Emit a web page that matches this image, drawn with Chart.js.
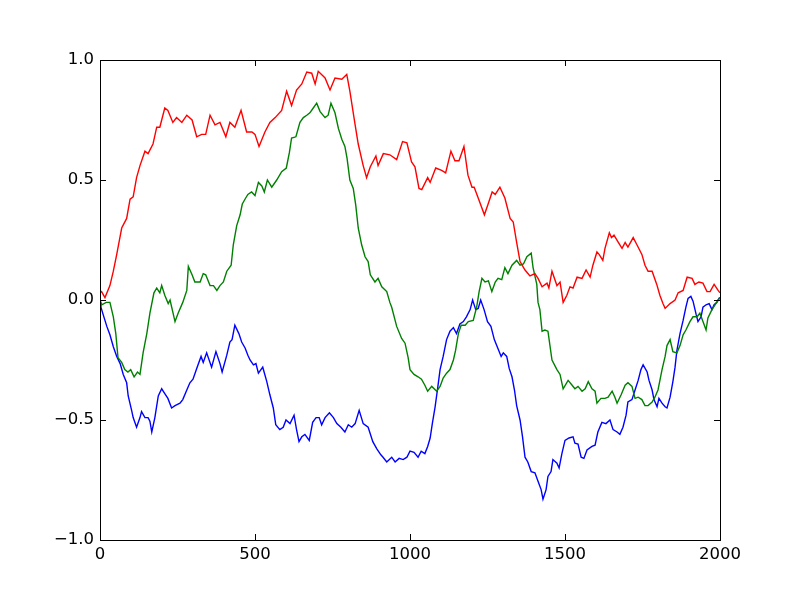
<!DOCTYPE html>
<html>
<head>
<meta charset="utf-8">
<script src="https://cdn.jsdelivr.net/npm/chart.js@4"></script>
<style>
    body { margin: 0; background: #fff; }
    canvas { display: block; }
</style>
</head>
<body>
<canvas id="walk-chart" width="800" height="600"></canvas>
<script>
/**
 * values (three random walks, x 0..2000)
 */
const redX = [0, 5, 16, 32, 43, 54, 70, 86, 97, 107, 118, 129, 145, 155, 171, 183, 193, 209, 219, 235, 247, 264, 280, 297, 312, 328, 341, 355, 371, 387, 406, 419, 435, 455, 473, 490, 500, 513, 532, 548, 565, 586, 602, 618, 634, 651, 667, 683, 694, 704, 726, 742, 758, 780, 796, 806, 823, 833, 849, 860, 872, 890, 897, 914, 935, 957, 976, 990, 1005, 1016, 1029, 1038, 1057, 1065, 1083, 1102, 1115, 1132, 1145, 1158, 1174, 1187, 1200, 1207, 1220, 1240, 1252, 1265, 1275, 1290, 1306, 1323, 1333, 1344, 1355, 1371, 1387, 1403, 1413, 1426, 1442, 1448, 1458, 1474, 1484, 1494, 1506, 1516, 1526, 1539, 1555, 1568, 1581, 1590, 1603, 1610, 1622, 1629, 1643, 1650, 1658, 1672, 1684, 1694, 1703, 1720, 1732, 1748, 1758, 1768, 1781, 1796, 1806, 1816, 1823, 1839, 1855, 1865, 1881, 1894, 1910, 1919, 1932, 1945, 1958, 1968, 1981, 1994, 2000];
const redY = [0.03, 0.035, 0.01, 0.06, 0.12, 0.19, 0.30, 0.34, 0.42, 0.43, 0.51, 0.56, 0.62, 0.61, 0.65, 0.72, 0.72, 0.80, 0.79, 0.74, 0.76, 0.74, 0.77, 0.75, 0.68, 0.69, 0.69, 0.77, 0.73, 0.74, 0.68, 0.74, 0.72, 0.79, 0.70, 0.70, 0.69, 0.64, 0.70, 0.74, 0.76, 0.79, 0.87, 0.81, 0.875, 0.90, 0.95, 0.945, 0.90, 0.953, 0.925, 0.875, 0.925, 0.92, 0.94, 0.87, 0.73, 0.65, 0.56, 0.51, 0.555, 0.60, 0.56, 0.61, 0.605, 0.585, 0.66, 0.655, 0.575, 0.555, 0.465, 0.46, 0.51, 0.49, 0.55, 0.54, 0.53, 0.62, 0.58, 0.58, 0.64, 0.52, 0.47, 0.47, 0.425, 0.355, 0.40, 0.45, 0.44, 0.47, 0.425, 0.34, 0.325, 0.24, 0.16, 0.125, 0.10, 0.11, 0.09, 0.055, 0.07, 0.05, 0.12, 0.06, 0.075, -0.01, 0.02, 0.055, 0.05, 0.095, 0.09, 0.125, 0.095, 0.145, 0.20, 0.19, 0.165, 0.215, 0.28, 0.26, 0.27, 0.24, 0.215, 0.24, 0.22, 0.26, 0.23, 0.19, 0.145, 0.12, 0.12, 0.065, 0.02, -0.015, -0.035, -0.015, 0.0, 0.03, 0.04, 0.095, 0.09, 0.065, 0.075, 0.07, 0.035, 0.035, 0.065, 0.04, 0.03];

const greenX = [0, 6, 20, 32, 43, 51, 58, 70, 80, 90, 99, 110, 121, 129, 139, 151, 161, 174, 183, 193, 199, 209, 220, 226, 242, 252, 267, 280, 285, 297, 306, 323, 333, 341, 355, 366, 377, 387, 398, 409, 423, 430, 441, 452, 459, 470, 477, 489, 500, 511, 522, 530, 540, 554, 570, 586, 601, 611, 618, 632, 645, 656, 667, 677, 688, 699, 710, 726, 736, 745, 758, 769, 780, 790, 797, 806, 817, 825, 833, 844, 855, 865, 872, 887, 897, 909, 925, 935, 941, 957, 973, 984, 994, 1000, 1013, 1026, 1037, 1048, 1057, 1070, 1086, 1097, 1107, 1118, 1129, 1140, 1147, 1156, 1165, 1178, 1188, 1204, 1215, 1223, 1232, 1242, 1253, 1264, 1275, 1284, 1296, 1306, 1316, 1329, 1344, 1355, 1366, 1377, 1391, 1397, 1409, 1413, 1419, 1426, 1435, 1445, 1458, 1474, 1484, 1494, 1510, 1523, 1532, 1542, 1555, 1565, 1575, 1587, 1597, 1603, 1616, 1629, 1639, 1652, 1661, 1668, 1681, 1694, 1703, 1716, 1726, 1736, 1748, 1758, 1768, 1781, 1790, 1800, 1813, 1823, 1829, 1839, 1848, 1861, 1871, 1881, 1890, 1903, 1913, 1926, 1935, 1948, 1955, 1961, 1974, 1984, 1994, 2000];
const greenY = [0.0, -0.02, -0.01, -0.01, -0.07, -0.14, -0.24, -0.26, -0.29, -0.30, -0.29, -0.32, -0.30, -0.31, -0.22, -0.14, -0.055, 0.03, 0.05, 0.03, 0.06, 0.02, -0.015, 0.0, -0.09, -0.055, -0.01, 0.04, 0.14, 0.105, 0.075, 0.075, 0.11, 0.105, 0.06, 0.06, 0.04, 0.06, 0.075, 0.12, 0.145, 0.23, 0.31, 0.355, 0.40, 0.425, 0.44, 0.45, 0.435, 0.49, 0.475, 0.45, 0.50, 0.47, 0.50, 0.535, 0.55, 0.615, 0.675, 0.68, 0.74, 0.76, 0.77, 0.78, 0.80, 0.82, 0.785, 0.76, 0.77, 0.82, 0.78, 0.715, 0.67, 0.64, 0.59, 0.50, 0.465, 0.395, 0.30, 0.23, 0.18, 0.16, 0.105, 0.075, 0.09, 0.055, 0.035, -0.01, -0.03, -0.11, -0.16, -0.18, -0.24, -0.29, -0.31, -0.32, -0.33, -0.355, -0.38, -0.36, -0.38, -0.36, -0.325, -0.305, -0.29, -0.25, -0.21, -0.14, -0.105, -0.105, -0.09, -0.085, -0.03, 0.035, 0.09, 0.075, 0.08, 0.035, 0.075, 0.09, 0.085, 0.135, 0.11, 0.145, 0.165, 0.145, 0.15, 0.18, 0.195, 0.135, 0.065, -0.01, -0.04, -0.13, -0.125, -0.13, -0.25, -0.29, -0.31, -0.37, -0.335, -0.355, -0.37, -0.36, -0.38, -0.37, -0.34, -0.37, -0.38, -0.43, -0.41, -0.41, -0.405, -0.38, -0.405, -0.43, -0.395, -0.355, -0.345, -0.36, -0.41, -0.405, -0.415, -0.44, -0.44, -0.425, -0.405, -0.375, -0.29, -0.235, -0.19, -0.165, -0.215, -0.22, -0.19, -0.145, -0.125, -0.09, -0.07, -0.07, -0.055, -0.10, -0.125, -0.075, -0.04, -0.02, 0.0, 0.01];

const blueX = [0, 3, 10, 22, 32, 43, 54, 65, 75, 86, 91, 102, 107, 118, 129, 134, 145, 155, 161, 167, 177, 188, 199, 209, 219, 231, 242, 258, 267, 280, 290, 300, 312, 326, 333, 344, 360, 374, 387, 394, 409, 419, 426, 435, 448, 457, 468, 477, 484, 495, 503, 511, 525, 538, 548, 559, 567, 580, 591, 600, 613, 626, 634, 642, 651, 661, 675, 686, 697, 707, 715, 726, 740, 753, 764, 777, 790, 801, 812, 823, 836, 849, 865, 880, 893, 906, 913, 925, 941, 952, 965, 978, 990, 1000, 1013, 1026, 1036, 1048, 1057, 1065, 1072, 1081, 1090, 1097, 1107, 1118, 1129, 1140, 1150, 1161, 1172, 1182, 1194, 1202, 1212, 1220, 1228, 1239, 1250, 1261, 1272, 1283, 1294, 1301, 1312, 1320, 1329, 1337, 1344, 1355, 1363, 1371, 1380, 1391, 1403, 1413, 1423, 1429, 1439, 1445, 1455, 1461, 1474, 1481, 1490, 1500, 1513, 1526, 1532, 1542, 1552, 1561, 1571, 1587, 1597, 1606, 1619, 1632, 1645, 1655, 1668, 1677, 1687, 1697, 1703, 1716, 1726, 1736, 1745, 1752, 1765, 1771, 1781, 1787, 1797, 1803, 1813, 1823, 1829, 1839, 1848, 1855, 1861, 1871, 1881, 1890, 1897, 1906, 1913, 1923, 1929, 1939, 1945, 1955, 1965, 1974, 1981, 1990, 1997, 2000];
const blueY = [-0.02, -0.03, -0.06, -0.11, -0.145, -0.195, -0.235, -0.265, -0.31, -0.345, -0.40, -0.46, -0.49, -0.53, -0.49, -0.465, -0.49, -0.49, -0.505, -0.55, -0.49, -0.40, -0.37, -0.39, -0.41, -0.45, -0.44, -0.43, -0.415, -0.375, -0.345, -0.33, -0.285, -0.235, -0.26, -0.22, -0.28, -0.215, -0.265, -0.30, -0.23, -0.175, -0.165, -0.105, -0.14, -0.175, -0.20, -0.23, -0.25, -0.27, -0.265, -0.305, -0.28, -0.34, -0.395, -0.45, -0.52, -0.54, -0.53, -0.50, -0.515, -0.48, -0.54, -0.59, -0.57, -0.56, -0.585, -0.51, -0.49, -0.49, -0.52, -0.49, -0.47, -0.49, -0.515, -0.53, -0.55, -0.52, -0.53, -0.515, -0.46, -0.515, -0.53, -0.59, -0.62, -0.645, -0.655, -0.675, -0.655, -0.675, -0.66, -0.665, -0.655, -0.63, -0.635, -0.655, -0.63, -0.64, -0.61, -0.575, -0.515, -0.445, -0.36, -0.29, -0.235, -0.165, -0.13, -0.115, -0.14, -0.10, -0.09, -0.07, -0.04, 0.0, -0.04, -0.035, 0.0, -0.04, -0.09, -0.11, -0.165, -0.20, -0.235, -0.22, -0.235, -0.285, -0.32, -0.375, -0.44, -0.50, -0.57, -0.655, -0.675, -0.715, -0.72, -0.755, -0.79, -0.83, -0.79, -0.735, -0.715, -0.665, -0.68, -0.70, -0.64, -0.585, -0.575, -0.57, -0.597, -0.60, -0.655, -0.66, -0.625, -0.61, -0.605, -0.55, -0.51, -0.515, -0.50, -0.54, -0.55, -0.56, -0.53, -0.48, -0.425, -0.415, -0.375, -0.335, -0.29, -0.27, -0.30, -0.335, -0.375, -0.415, -0.445, -0.41, -0.43, -0.445, -0.45, -0.405, -0.34, -0.28, -0.21, -0.14, -0.085, -0.03, 0.007, 0.015, -0.005, -0.06, -0.09, -0.07, -0.03, -0.02, -0.015, -0.04, -0.02, -0.01, 0.007, 0.01];

const xTicks = [0, 500, 1000, 1500, 2000];
const yTicks = [-1.0, -0.5, 0.0, 0.5, 1.0];

// zip x/y arrays into points
function toPoints(xs, ys) {
    return xs.map((x, i) => ({ x: x, y: ys[i] }));
}

// matplotlib style frame with inward ticks on all four sides
const frameTicks = {
    id: "frameTicks",
    afterDatasetsDraw(chart) {
        const { ctx, chartArea: a, scales } = chart;
        const len = 6;
        ctx.save();
        ctx.strokeStyle = "#000";
        ctx.lineWidth = 1;
        ctx.beginPath();
        xTicks.forEach(v => {
            const px = Math.round(scales.x.getPixelForValue(v)) + 0.5;
            ctx.moveTo(px, a.bottom);
            ctx.lineTo(px, a.bottom - len);
            ctx.moveTo(px, a.top);
            ctx.lineTo(px, a.top + len);
        });
        yTicks.forEach(v => {
            const py = Math.round(scales.y.getPixelForValue(v)) + 0.5;
            ctx.moveTo(a.left, py);
            ctx.lineTo(a.left + len, py);
            ctx.moveTo(a.right, py);
            ctx.lineTo(a.right - len, py);
        });
        ctx.stroke();
        ctx.strokeRect(a.left + 0.5, a.top + 0.5, a.right - a.left, a.bottom - a.top);
        ctx.restore();
    }
};

function initWalkChart() {
    const ctx = document.getElementById("walk-chart").getContext("2d");
    const tickFont = { family: "'DejaVu Sans'", size: 16.5 };

    const lineStyle = color => ({
        borderColor: color,
        backgroundColor: color,
        borderWidth: 1.4,
        pointRadius: 0,
        tension: 0,
        fill: false
    });

    new Chart(ctx, {
        type: "line",
        data: {
            datasets: [
                { data: toPoints(redX, redY), ...lineStyle("#ff0000") },
                { data: toPoints(greenX, greenY), ...lineStyle("#008000") },
                { data: toPoints(blueX, blueY), ...lineStyle("#0000ff") }
            ]
        },
        options: {
            responsive: false,
            animation: false,
            layout: { padding: { left: 0, top: 60, right: 80, bottom: 0 } },
            plugins: {
                legend: { display: false },
                tooltip: { enabled: false }
            },
            scales: {
                x: {
                    type: "linear",
                    min: 0,
                    max: 2000,
                    afterFit: scale => { scale.height = 60; },
                    afterBuildTicks: scale => { scale.ticks = xTicks.map(v => ({ value: v })); },
                    grid: { display: false, drawTicks: false },
                    border: { display: false },
                    ticks: {
                        color: "#000",
                        font: tickFont,
                        padding: 5,
                        maxRotation: 0,
                        autoSkip: false,
                        callback: v => `${v}`
                    }
                },
                y: {
                    type: "linear",
                    min: -1,
                    max: 1,
                    afterFit: scale => { scale.width = 100; },
                    afterBuildTicks: scale => { scale.ticks = yTicks.map(v => ({ value: v })); },
                    grid: { display: false, drawTicks: false },
                    border: { display: false },
                    ticks: {
                        color: "#000",
                        font: tickFont,
                        padding: 6,
                        autoSkip: false,
                        callback: v => v.toFixed(1).replace("-", "\u2212")
                    }
                }
            }
        },
        plugins: [frameTicks]
    });
}

initWalkChart();
</script>
</body>
</html>
